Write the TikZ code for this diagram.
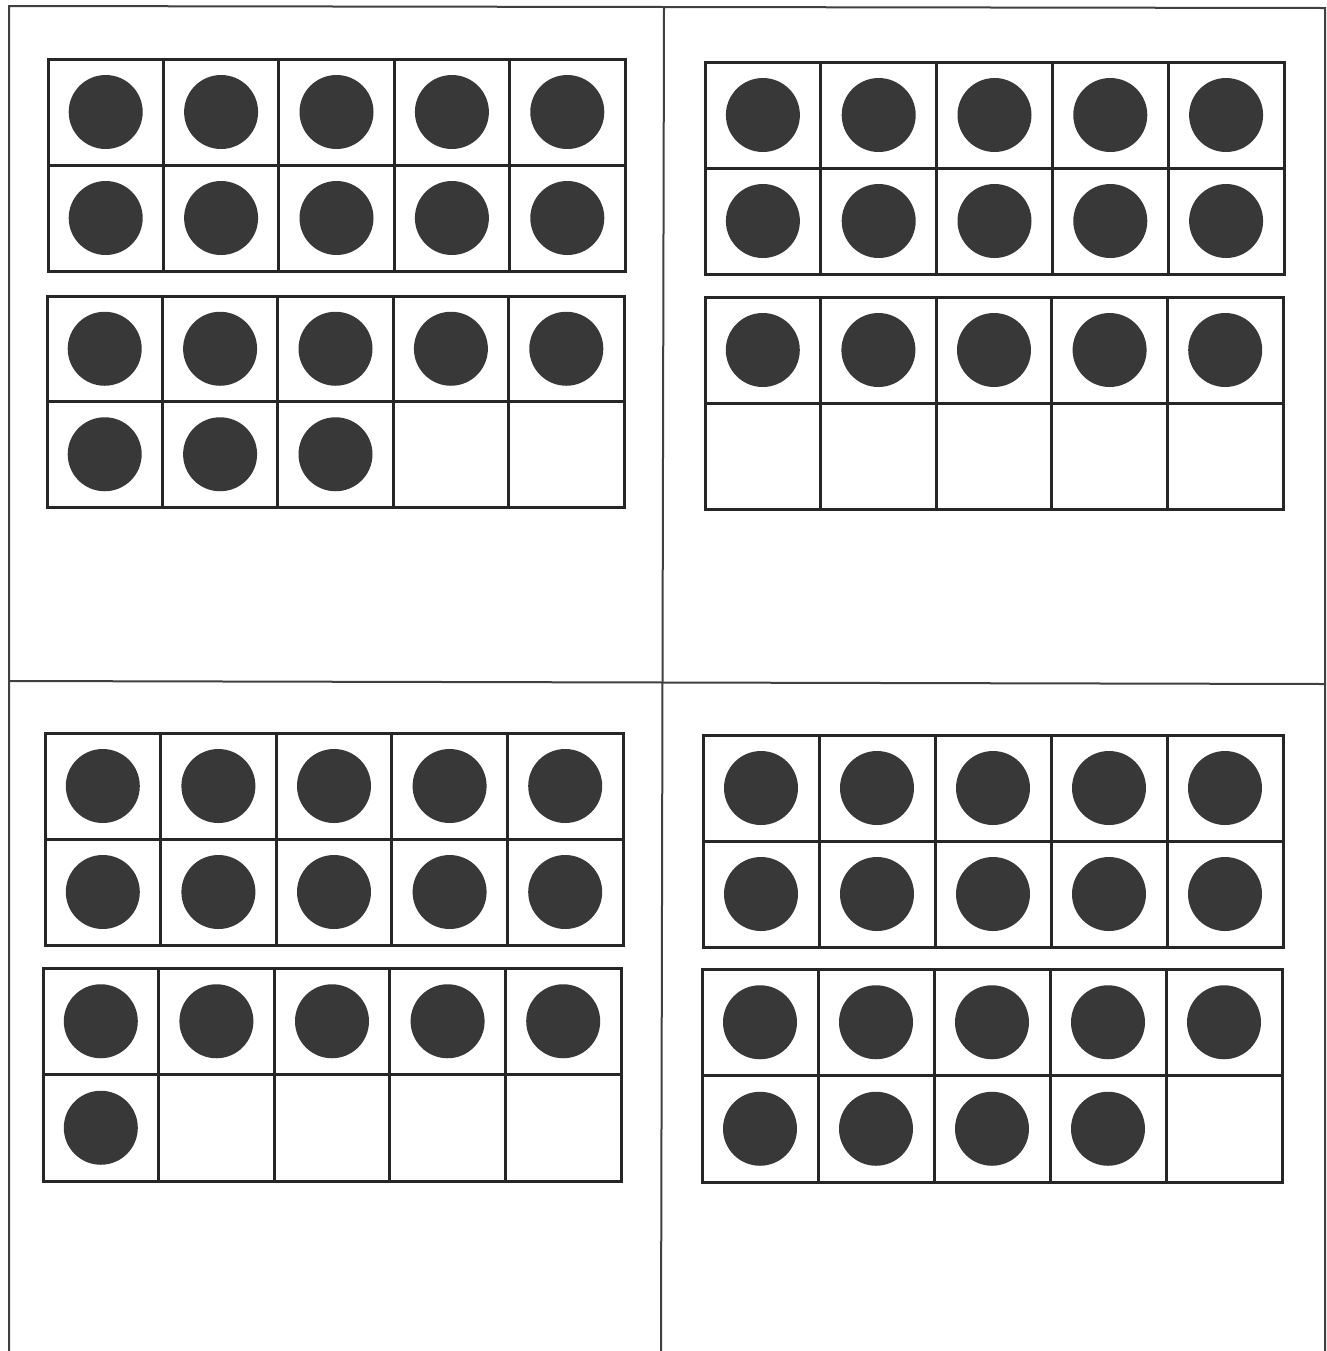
\documentclass[tikz,border=0pt]{standalone}
\tikzset{
  framebox/.style={draw=black!85, line width=1.5pt},
  sheetline/.style={draw=black!75, line width=1pt},
  counter/.style={fill=black!78, draw=none},
}
% #1,#2 top-left; #3,#4 bottom-right; #5 filled cells
\newcommand{\tenframeTF}[5]{%
  \pgfmathsetmacro{\cw}{(#3-#1)/5}%
  \pgfmathsetmacro{\ch}{(#4-#2)/2}%
  \foreach \k in {1,...,#5}{%
    \pgfmathtruncatemacro{\row}{(\k-1)/5}%
    \pgfmathtruncatemacro{\col}{mod(\k-1,5)}%
    \fill[counter] ({#1+(\col+0.5)*\cw},{#2+(\row+0.5)*\ch}) circle (37);
  }%
  \draw[framebox] (#1,#2) rectangle (#3,#4);
  \draw[framebox] (#1,{#2+\ch}) -- (#3,{#2+\ch});
  \foreach \c in {1,2,3,4}{\draw[framebox] ({#1+\c*\cw},#2) -- ({#1+\c*\cw},#4);}
}
\begin{document}
\begin{tikzpicture}[x=0.5pt,y=-0.5pt]
\useasboundingbox (0,0) rectangle (1327,1351);
\fill[white] (0,0) rectangle (1327,1351);
% sheet outline and quadrant dividers
\coordinate (bl) at (9,1351);
\coordinate (tl) at (9,6);
\coordinate (tr) at (1325,8);
\coordinate (br) at (1325,1351);
\draw[sheetline] (bl) -- (tl) -- (tr) -- (br);
\coordinate (vt) at (664,8);
\coordinate (vb) at (661,1351);
\draw[sheetline] (vt) -- (vb);
\coordinate (hl) at (9,681);
\coordinate (hr) at (1325,684);
\draw[sheetline] (hl) -- (hr);
% top-left: 18
\tenframeTF{48}{59}{625}{271}{10}
\tenframeTF{47}{296}{624}{507}{8}
% top-right: 15
\tenframeTF{705}{62}{1284}{274}{10}
\tenframeTF{705}{297}{1283}{509}{5}
% bottom-left: 16
\tenframeTF{45}{733}{623}{945}{10}
\tenframeTF{43}{968}{621}{1181}{6}
% bottom-right: 19
\tenframeTF{703}{735}{1283}{947}{10}
\tenframeTF{702}{969}{1282}{1182}{9}
\end{tikzpicture}
\end{document}
